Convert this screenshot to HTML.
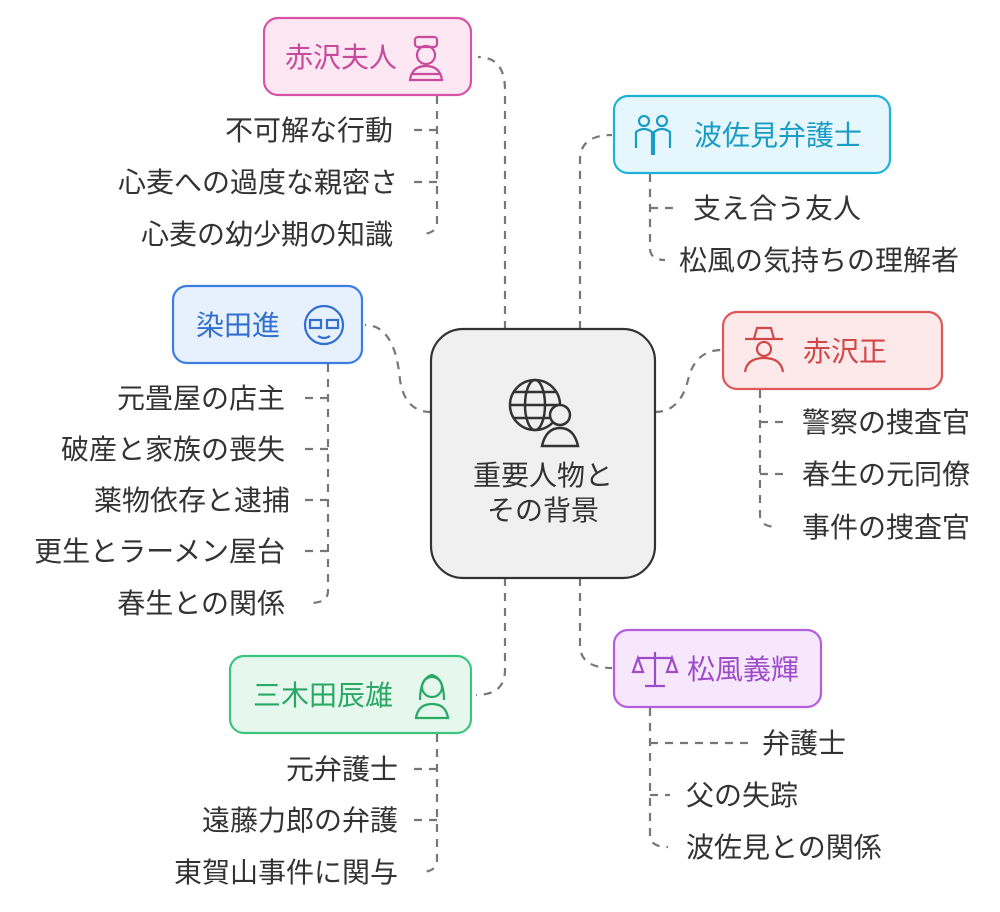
<!DOCTYPE html>
<html><head><meta charset="utf-8"><style>
body{margin:0;background:#fff;}
svg text{font-family:"Liberation Sans","Noto Sans CJK JP",sans-serif;}
</style></head><body>
<svg width="1000" height="907" viewBox="0 0 1000 907" xmlns="http://www.w3.org/2000/svg">
<g fill="none" stroke="#777" stroke-width="2.2" stroke-dasharray="8,7">
<path d="M505 329 V90 Q505 57 478 57"/>
<path d="M580 329 V160 Q580 135 612 135"/>
<path d="M431 412 Q405 412 400 380 Q395 325 365 325"/>
<path d="M655 412 Q680 412 688 380 Q695 350 722 350"/>
<path d="M505 578 V670 Q505 695 476 695"/>
<path d="M580 578 V645 Q580 668 612 668"/>
<path d="M437 96 V222 Q437 234 420 234 M437 130 H408 M437 182 H408"/>
<path d="M650 174 V248 Q650 260 665 260 M650 208 H676"/>
<path d="M328 364 V591 Q328 603 310 603 M328 398 H300 M328 449 H300 M328 500 H300 M328 551 H300"/>
<path d="M760 390 V515 Q760 527 778 527 M760 422 H786 M760 474 H786"/>
<path d="M437 734 V860 Q437 872 420 872 M437 769 H408 M437 820 H408"/>
<path d="M650 708 V835 Q650 847 668 847 M650 743 H748 M650 795 H670"/>
</g>
<rect x="431" y="329" width="224" height="249" rx="32" fill="#f0f0f0" stroke="#333" stroke-width="2.2"/>
<g fill="none" stroke="#333" stroke-width="2.5">
<circle cx="535" cy="405" r="25"/>
<ellipse cx="535" cy="405" rx="10" ry="25"/>
<path d="M510 405 H560 M514 392 H556 M514 418 H550"/>
<circle cx="560" cy="415" r="10" fill="#f0f0f0"/>
<path d="M542 446 Q546 428 560 428 Q574 428 578 446 Z" fill="#f0f0f0"/>
</g>
<text x="543" y="485" font-size="28" fill="#333" text-anchor="middle">重要人物と</text>
<text x="543" y="520" font-size="28" fill="#333" text-anchor="middle">その背景</text>
<rect x="264" y="18" width="207" height="77" rx="14" fill="#fde7f3" stroke="#d653a8" stroke-width="2.2"/>
<text x="285" y="67" font-size="28" fill="#c94a9c">赤沢夫人</text>
<g fill="none" stroke="#c94a9c" stroke-width="2.2"><rect x="415" y="37" width="22" height="10" rx="3"/><circle cx="426" cy="55" r="9"/><path d="M410 80 Q412 66 426 66 Q440 66 442 80 Z M412 74 H440"/></g>

<rect x="614" y="96" width="276" height="77" rx="14" fill="#e5f7fc" stroke="#1fb2d8" stroke-width="2.2"/>
<text x="694" y="145" font-size="28" fill="#1a9cc4">波佐見弁護士</text>
<g fill="none" stroke="#1a9cc4" stroke-width="2.2"><circle cx="644" cy="121" r="5"/><circle cx="662" cy="121" r="5"/><path d="M636 148 V132 Q644 126 652 132 V155 M654 155 V132 Q662 126 670 132 V148"/></g>

<rect x="173" y="286" width="189" height="77" rx="14" fill="#e7f0fd" stroke="#3b7de0" stroke-width="2.2"/>
<text x="196" y="335" font-size="28" fill="#3270d0">染田進</text>
<g fill="none" stroke="#3270d0" stroke-width="2.2"><circle cx="324" cy="325" r="19"/><rect x="310" y="320" width="11" height="8"/><rect x="327" y="320" width="11" height="8"/><path d="M318 336 Q324 340 330 336"/></g>

<rect x="723" y="312" width="219" height="77" rx="14" fill="#fde9e9" stroke="#e05757" stroke-width="2.2"/>
<text x="803" y="361" font-size="28" fill="#d24848">赤沢正</text>
<g fill="none" stroke="#d24848" stroke-width="2.2"><path d="M745 339 H783 M754 339 L757 328 H771 L774 339"/><circle cx="764" cy="349" r="7"/><path d="M745 372 Q747 358 764 358 Q781 358 783 372"/></g>

<rect x="230" y="656" width="241" height="77" rx="14" fill="#e6f8ee" stroke="#3cc47e" stroke-width="2.2"/>
<text x="253" y="705" font-size="28" fill="#2aa866">三木田辰雄</text>
<g fill="none" stroke="#2aa866" stroke-width="2.2"><circle cx="432" cy="687" r="10"/><path d="M420 700 Q420 678 432 675 Q444 678 444 700 M416 718 Q418 704 432 704 Q446 704 448 718 Z"/></g>

<rect x="614" y="630" width="207" height="77" rx="14" fill="#f6e7fd" stroke="#b45de0" stroke-width="2.2"/>
<text x="687" y="679" font-size="28" fill="#9e4cc8">松風義輝</text>
<g fill="none" stroke="#9e4cc8" stroke-width="2.2"><path d="M655 652 V686 M638 658 H672 M645 686 H665 M638 658 L633 672 H643 Z M672 658 L667 672 H677 Z"/></g>
<g font-size="28" fill="#333">
<g text-anchor="end">
<text x="393" y="140">不可解な行動</text>
<text x="398" y="192">心麦への過度な親密さ</text>
<text x="393" y="244">心麦の幼少期の知識</text>
<text x="285" y="408">元畳屋の店主</text>
<text x="285" y="459">破産と家族の喪失</text>
<text x="290" y="510">薬物依存と逮捕</text>
<text x="285" y="561">更生とラーメン屋台</text>
<text x="285" y="613">春生との関係</text>
<text x="398" y="779">元弁護士</text>
<text x="398" y="830">遠藤力郎の弁護</text>
<text x="398" y="882">東賀山事件に関与</text>
</g>
<text x="693" y="218">支え合う友人</text>
<text x="679" y="270">松風の気持ちの理解者</text>
<text x="802" y="432">警察の捜査官</text>
<text x="802" y="484">春生の元同僚</text>
<text x="802" y="537">事件の捜査官</text>
<text x="762" y="753">弁護士</text>
<text x="686" y="805">父の失踪</text>
<text x="686" y="857">波佐見との関係</text>
</g>
</svg>
</body></html>
